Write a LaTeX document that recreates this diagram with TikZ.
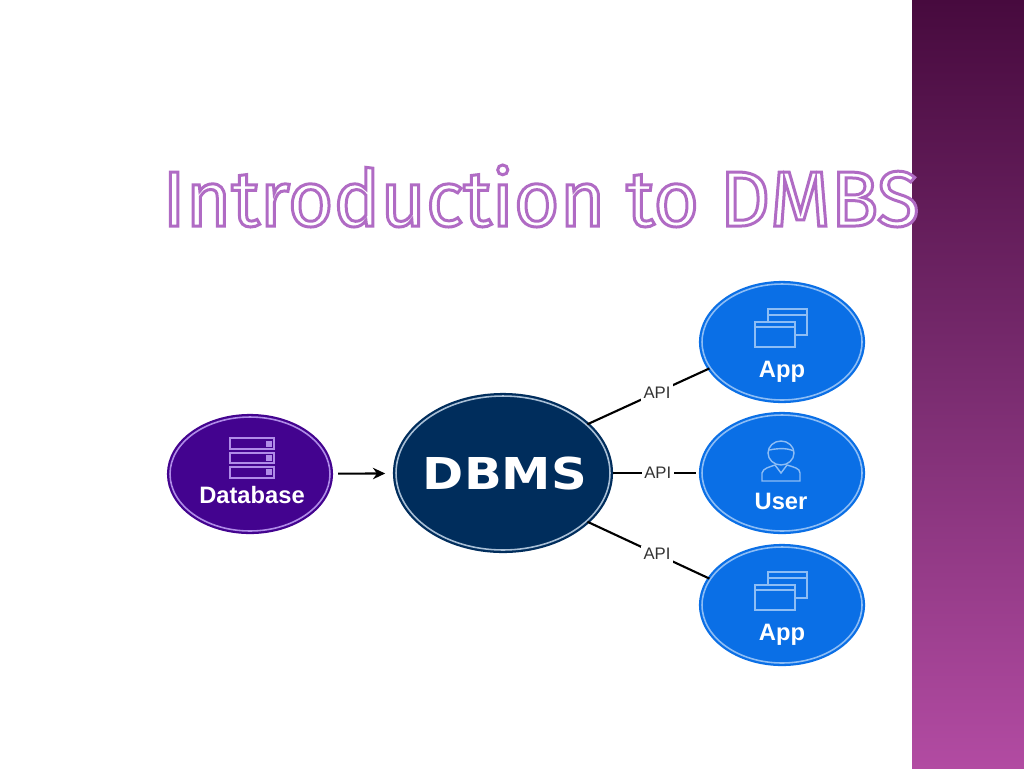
\documentclass[tikz,border=0pt]{standalone}
\usepackage{fontspec}
\setmainfont{Liberation Sans}
\newfontfamily\titlefont{Fira Sans}
\newfontfamily\dbmsfont{DejaVu Sans}
\usetikzlibrary{shapes.geometric,arrows.meta}
\definecolor{bandtop}{HTML}{470A3E}
\definecolor{bandmid}{HTML}{7A2C70}
\definecolor{bandlow}{HTML}{B24BA2}
\definecolor{dbfill}{HTML}{43038F}
\definecolor{dbring}{HTML}{B08CE8}
\definecolor{dbmsfill}{HTML}{002D5C}
\definecolor{dbmsring}{HTML}{A9BFD6}
\definecolor{appfill}{HTML}{0A6FE6}
\definecolor{appring}{HTML}{8DBDF5}
\tikzset{
  bubble/.style={ellipse,line width=1.3pt,double distance=0.9pt},
  dbbubble/.style={bubble,draw=dbfill,double=dbring,fill=dbfill,minimum width=3.2cm,minimum height=2.28cm},
  dbmsbubble/.style={bubble,draw=dbmsfill,double=dbmsring,fill=dbmsfill,minimum width=4.28cm,minimum height=3.08cm},
  appbubble/.style={bubble,draw=appfill,double=appring,fill=appfill,minimum width=3.2cm,minimum height=2.32cm},
  bubbletext/.style={text=white,font=\bfseries\fontsize{13.5}{14}\selectfont,inner sep=0pt},
  apitext/.style={fill=white,font=\fontsize{9.5}{10}\selectfont,text=black!80,inner sep=1.5pt},
  apiline/.style={line width=1.2pt,black},
  iconline/.style={line width=0.8pt},
  appicon/.pic={
    \draw[appring,iconline] (-14,-20) -- (-14,-33) -- (25,-33) -- (25,-7) -- (13,-7);
    \draw[appring,iconline] (-14,-27) -- (25,-27);
    \draw[appring,iconline] (-27,-20) rectangle (13,5);
    \draw[appring,iconline] (-27,-15) -- (13,-15);
  }
}
\begin{document}
\begin{tikzpicture}[x=0.02cm,y=-0.02cm]
  \useasboundingbox (0,0) rectangle (1024,768);
  \fill[white] (0,0) rectangle (1024,768);
  % side band
  \shade[top color=bandtop,bottom color=bandlow,middle color=bandmid] (912,0) rectangle (1024,768);
  % title
  \node[text=white,font=\titlefont\fontsize{44.6}{45}\selectfont,inner sep=0pt] (title) at (541,196) {\special{pdf:code 2 Tr 1.7 w 0.69 0.42 0.77 RG}Introduction to DMBS\special{pdf:code 0 Tr 0 G}};
  % bubbles
  \node[dbbubble] (database) at (250,474) {};
  \node[dbmsbubble] (dbms) at (503,473) {};
  \node[appbubble] (apptop) at (782,342) {};
  \node[appbubble] (user) at (782,473) {};
  \node[appbubble] (appbottom) at (782,605) {};
  % labels
  \node[bubbletext] (databaselabel) at (252,495) {Database};
  \node[text=white,font=\dbmsfont\bfseries\fontsize{25}{25}\selectfont,inner sep=0pt] (dbmslabel) at (505,474) {\scalebox{1.13}[1]{DBMS}};
  \node[bubbletext] (apptoplabel) at (782,372) {App};
  \node[bubbletext] (userlabel) at (781,501) {User};
  \node[bubbletext] (appbottomlabel) at (782,635) {App};
  % icons
  \draw[dbring,iconline] (230,438) rectangle (274,449);
  \draw[dbring,iconline] (230,453) rectangle (274,463);
  \draw[dbring,iconline] (230,467) rectangle (274,478);
  \foreach \y in {444,458,472} \fill[dbring] (266,\y-3) rectangle (272,\y+3);
  \pic at (782,342) {appicon};
  \pic at (782,605) {appicon};
  \draw[appring,iconline] (781,453) ellipse (13 and 12);
  \draw[appring,iconline] (769,450) .. controls (775,449) and (785,447) .. (794,451);
  \draw[appring,iconline] (762,481) -- (762,473) .. controls (763,468) and (770,467) .. (775,465) -- (781,473) -- (787,465) .. controls (793,467) and (800,468) .. (800,473) -- (800,481) -- cycle;
  % connectors
  \draw[line width=1.2pt,-{Stealth[length=7pt,width=6.5pt]},shorten <=4pt,shorten >=5.5pt] (database) -- (dbms);
  \draw[apiline] (dbms.30) -- node[apitext,pos=0.57] (apitop) {API} (apptop.200);
  \draw[apiline,shorten <=1pt,shorten >=3pt] (dbms.0) -- node[apitext,pos=0.52] (apimid) {API} (user.180);
  \draw[apiline] (dbms.-30) -- node[apitext,pos=0.57] (apibottom) {API} (appbottom.160);
\end{tikzpicture}
\end{document}
